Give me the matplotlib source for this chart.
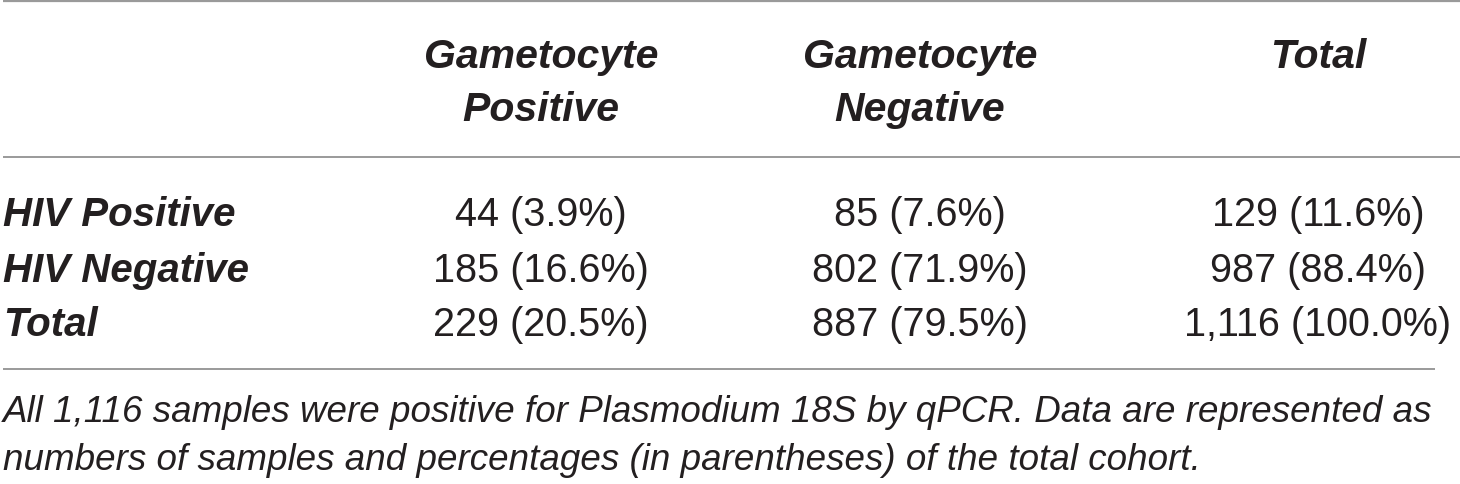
import matplotlib
matplotlib.use("Agg")
import matplotlib.pyplot as plt

# ---- data ----
col_headers = ["Gametocyte\nPositive", "Gametocyte\nNegative", "Total"]
row_labels = ["HIV Positive", "HIV Negative", "Total"]
gam_pos_n = [44, 185, 229]
gam_pos_pct = [3.9, 16.6, 20.5]
gam_neg_n = [85, 802, 887]
gam_neg_pct = [7.6, 71.9, 79.5]
total_n = [129, 987, 1116]
total_pct = [11.6, 88.4, 100.0]
caption = ["All 1,116 samples were positive for Plasmodium 18S by qPCR. Data are represented as",
           "numbers of samples and percentages (in parentheses) of the total cohort."]

W, H = 1460, 485
fig = plt.figure(figsize=(W / 100, H / 100), dpi=100)
ax = fig.add_axes([0, 0, 1, 1])
ax.set_xlim(0, W)
ax.set_ylim(H, 0)
ax.axis("off")

FONT = "Liberation Sans"
TXT = "#231f20"
LINE = "#9a9a9a"
FS = 28.5

# rules
ax.plot([3, W], [2, 2], color=LINE, lw=1.6, solid_capstyle="butt")
ax.plot([3, W], [158, 158], color=LINE, lw=1.4, solid_capstyle="butt")
ax.plot([3, 1435], [370, 370], color=LINE, lw=1.4, solid_capstyle="butt")

col_x = [541, 920, 1318]
# headers
for x, h in zip(col_x, col_headers):
    lines = h.split("\n")
    for i, ln in enumerate(lines):
        ax.text(x, 68 + i * 53, ln, ha="center", va="baseline", fontsize=29.5,
                fontweight="bold", fontstyle="italic", family=FONT, color=TXT)

row_y = [226, 282, 336]
cols = [(gam_pos_n, gam_pos_pct), (gam_neg_n, gam_neg_pct), (total_n, total_pct)]
for r, (lab, y) in enumerate(zip(row_labels, row_y)):
    ax.text(3, y, lab, ha="left", va="baseline", fontsize=29, fontweight="bold",
            fontstyle="italic", family=FONT, color=TXT)
    for x, (ns, ps) in zip(col_x, cols):
        s = f"{ns[r]:,} ({ps[r]:.1f}%)"
        ax.text(x, y, s, ha="center", va="baseline", fontsize=FS, family=FONT,
                color=TXT)

for i, c in enumerate(caption):
    ax.text(3, 422 + i * 48, c, ha="left", va="baseline", fontsize=26.5,
            fontstyle="italic", family=FONT, color=TXT)

fig.savefig("out.png", dpi=100)
